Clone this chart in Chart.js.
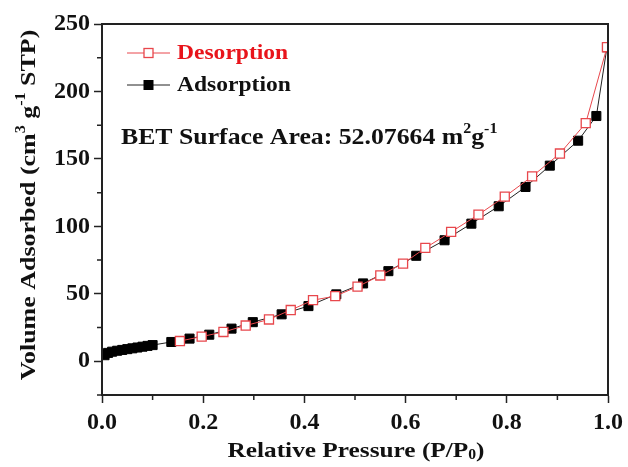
<!DOCTYPE html>
<html>
<head>
<meta charset="utf-8">
<script src="https://cdn.jsdelivr.net/npm/chart.js@4.4.1/dist/chart.umd.min.js"></script>
<style>
  html, body { margin: 0; padding: 0; background: #fff; }
  #wrap { width: 628px; height: 467px; }
</style>
</head>
<body>
<div id="wrap"><canvas id="bet"></canvas></div>
<script>
// relative pressure (P/P0) and volume adsorbed (cm3/g STP)
const adsP = [0.005, 0.012, 0.02, 0.03, 0.04, 0.05, 0.06, 0.07, 0.08, 0.09, 0.1,
  0.137, 0.173, 0.212, 0.256, 0.298, 0.355, 0.408, 0.463, 0.516, 0.566,
  0.621, 0.677, 0.73, 0.784, 0.837, 0.885, 0.941, 0.977, 0.998];
const adsV = [4.5, 6.2, 7.1, 7.8, 8.4, 9.0, 9.6, 10.2, 10.8, 11.4, 12.0,
  14.3, 16.8, 19.7, 24.2, 29.0, 34.8, 40.9, 49.6, 57.7, 66.8,
  78.2, 89.7, 102, 114.9, 129.2, 145, 163.5, 181.8, 232.8];
const desP = [0.998, 0.956, 0.905, 0.85, 0.796, 0.744, 0.69, 0.639, 0.595, 0.55,
  0.505, 0.461, 0.417, 0.373, 0.33, 0.284, 0.24, 0.197, 0.154];
const desV = [232.8, 176.5, 154, 137, 122, 108.7, 95.9, 84, 72.4, 63.6,
  55.3, 48.3, 45.3, 38, 31, 26.5, 21.7, 18.3, 15];
const xTicks = [0, 0.2, 0.4, 0.6, 0.8, 1.0];
const yTicks = [0, 50, 100, 150, 200, 250];
const xMinor = [0.1, 0.3, 0.5, 0.7, 0.9];
const yMinor = [-25, 25, 75, 125, 175, 225];
const bet = '52.07664';

const FONT = '"Liberation Serif", "Times New Roman", serif';
const toXY = (xs, ys) => xs.map((x, i) => ({ x: x, y: ys[i] }));

// text made of runs, some raised or lowered; sx stretches it sideways
function drawRuns(ctx, runs, x, y, size, sx) {
  ctx.save();
  ctx.translate(x, y);
  ctx.scale(sx, 1);
  let cx = 0;
  runs.forEach(r => {
    const s = r.sup || r.sub ? size * 0.62 : size;
    ctx.font = 'bold ' + s + 'px ' + FONT;
    const dy = r.sup ? -size * 0.36 : (r.sub ? size * 0.22 : 0);
    ctx.fillText(r.t, cx, dy);
    cx += ctx.measureText(r.t).width;
  });
  ctx.restore();
}
function runsWidth(ctx, runs, size, sx) {
  let w = 0;
  runs.forEach(r => {
    const s = r.sup || r.sub ? size * 0.62 : size;
    ctx.font = 'bold ' + s + 'px ' + FONT;
    w += ctx.measureText(r.t).width;
  });
  return w * sx;
}

const decor = {
  id: 'decor',
  afterDraw(chart) {
    const ctx = chart.ctx;
    const a = chart.chartArea;
    const xs = chart.scales.x, ys = chart.scales.y;
    ctx.save();
    // frame
    ctx.strokeStyle = '#222';
    ctx.lineWidth = 2;
    ctx.strokeRect(a.left, a.top, a.right - a.left, a.bottom - a.top);
    // minor ticks
    ctx.lineWidth = 1.5;
    ctx.beginPath();
    xMinor.forEach(v => {
      const px = xs.getPixelForValue(v);
      ctx.moveTo(px, a.bottom); ctx.lineTo(px, a.bottom + 5);
    });
    yMinor.forEach(v => {
      const py = ys.getPixelForValue(v);
      ctx.moveTo(a.left, py); ctx.lineTo(a.left - 5, py);
    });
    ctx.stroke();

    ctx.fillStyle = '#111';
    ctx.textBaseline = 'middle';
    // x title
    const xt = [{ t: 'Relative Pressure (P/P' }, { t: '0', sub: true }, { t: ')' }];
    const xw = runsWidth(ctx, xt, 22, 1.15);
    drawRuns(ctx, xt, 356 - xw / 2, 451, 22, 1.15);
    // y title
    const yt = [{ t: 'Volume Adsorbed (cm' }, { t: '3', sup: true }, { t: ' g' },
      { t: '-1', sup: true }, { t: ' STP)' }];
    const yw = runsWidth(ctx, yt, 22, 1.18);
    ctx.save();
    ctx.translate(29, 205);
    ctx.rotate(-Math.PI / 2);
    drawRuns(ctx, yt, -yw / 2, 0, 22, 1.18);
    ctx.restore();

    // legend
    const items = [
      { ds: chart.data.datasets[0], y: 53, color: '#e8141b' },
      { ds: chart.data.datasets[1], y: 85, color: '#111' }
    ];
    items.forEach(it => {
      ctx.strokeStyle = it.ds.borderColor;
      ctx.lineWidth = 1;
      ctx.beginPath();
      ctx.moveTo(127, it.y); ctx.lineTo(170, it.y);
      ctx.stroke();
      ctx.fillStyle = it.ds.pointBackgroundColor;
      ctx.strokeStyle = it.ds.pointBorderColor;
      ctx.lineWidth = it.ds.pointBorderWidth;
      ctx.fillRect(144, it.y - 4.5, 9, 9);
      ctx.strokeRect(144, it.y - 4.5, 9, 9);
      ctx.fillStyle = it.color;
      drawRuns(ctx, [{ t: it.ds.label }], 177, it.y, 22, 1.07);
    });

    // BET annotation
    ctx.fillStyle = '#111';
    drawRuns(ctx, [{ t: 'BET Surface Area: ' + bet + ' m' }, { t: '2', sup: true },
      { t: 'g' }, { t: '-1', sup: true }], 121, 138, 23, 1.12);
    ctx.restore();
  }
};

const ctx = document.getElementById('bet').getContext('2d');
new Chart(ctx, {
  type: 'line',
  data: {
    datasets: [
      {
        label: 'Desorption',
        data: toXY(desP, desV),
        borderColor: '#e8474c',
        borderWidth: 1,
        pointStyle: 'rect',
        pointRadius: 6.4,
        pointBackgroundColor: '#ffffff',
        pointBorderColor: '#e8474c',
        pointBorderWidth: 1.3
      },
      {
        label: 'Adsorption',
        data: toXY(adsP, adsV),
        borderColor: '#222',
        borderWidth: 1,
        pointStyle: 'rect',
        pointRadius: 6.4,
        pointBackgroundColor: '#000',
        pointBorderColor: '#000',
        pointBorderWidth: 1
      }
    ]
  },
  options: {
    responsive: true,
    maintainAspectRatio: false,
    animation: false,
    layout: { padding: { top: 24, right: 20, left: 0, bottom: 0 } },
    plugins: { legend: { display: false }, tooltip: { enabled: false } },
    scales: {
      x: {
        type: 'linear',
        min: 0, max: 1,
        afterFit: s => { s.height = 72; },
        afterBuildTicks: s => { s.ticks = xTicks.map(v => ({ value: v })); },
        grid: { drawOnChartArea: false, tickLength: 8, tickColor: '#222', tickWidth: 1.5 },
        border: { color: '#222', width: 2 },
        ticks: {
          color: '#111',
          font: { family: FONT, size: 24, weight: 'bold' },
          padding: 5,
          maxRotation: 0,
          callback: v => v.toFixed(1)
        }
      },
      y: {
        min: -25, max: 250,
        afterFit: s => { s.width = 102; },
        afterBuildTicks: s => { s.ticks = yTicks.map(v => ({ value: v })); },
        grid: { drawOnChartArea: false, tickLength: 8, tickColor: '#222', tickWidth: 1.5 },
        border: { color: '#222', width: 2 },
        ticks: {
          color: '#111',
          font: { family: FONT, size: 24, weight: 'bold' },
          padding: 4
        }
      }
    }
  },
  plugins: [decor]
});
</script>
</body>
</html>
